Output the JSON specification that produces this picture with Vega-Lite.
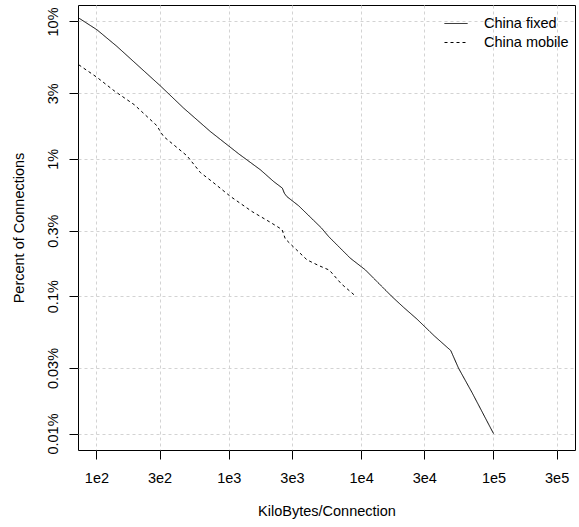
{
  "$schema": "https://vega.github.io/schema/vega-lite/v6.json",
  "width": 497,
  "height": 445,
  "autosize": {"type": "none"},
  "padding": {"left": 78, "top": 5, "right": 4, "bottom": 77},
  "background": "white",
  "config": {
    "font": "Liberation Sans",
    "view": {"stroke": "black", "strokeWidth": 1},
    "axis": {
      "domain": false,
      "ticks": true,
      "tickColor": "black",
      "tickSize": 9,
      "tickWidth": 1,
      "grid": true,
      "gridColor": "#d3d3d3",
      "gridDash": [3, 3],
      "gridWidth": 1,
      "labelFont": "Liberation Sans",
      "labelFontSize": 14.5,
      "labelColor": "black",
      "titleFont": "Liberation Sans",
      "titleFontSize": 14.5,
      "titleFontWeight": "normal",
      "titleColor": "black"
    }
  },
  "data": {
    "values": [
      {"series": "China fixed", "kb": 73.5, "pct": 10.6},
      {"series": "China fixed", "kb": 101, "pct": 8.70},
      {"series": "China fixed", "kb": 143, "pct": 6.58},
      {"series": "China fixed", "kb": 304, "pct": 3.40},
      {"series": "China fixed", "kb": 456, "pct": 2.34},
      {"series": "China fixed", "kb": 726, "pct": 1.58},
      {"series": "China fixed", "kb": 1189, "pct": 1.087},
      {"series": "China fixed", "kb": 1734, "pct": 0.832},
      {"series": "China fixed", "kb": 2185, "pct": 0.683},
      {"series": "China fixed", "kb": 2540, "pct": 0.612},
      {"series": "China fixed", "kb": 2630, "pct": 0.562},
      {"series": "China fixed", "kb": 2748, "pct": 0.531},
      {"series": "China fixed", "kb": 3375, "pct": 0.455},
      {"series": "China fixed", "kb": 5000, "pct": 0.3145},
      {"series": "China fixed", "kb": 5686, "pct": 0.2716},
      {"series": "China fixed", "kb": 8286, "pct": 0.189},
      {"series": "China fixed", "kb": 10760, "pct": 0.1554},
      {"series": "China fixed", "kb": 13180, "pct": 0.1277},
      {"series": "China fixed", "kb": 17100, "pct": 0.0993},
      {"series": "China fixed", "kb": 20930, "pct": 0.0829},
      {"series": "China fixed", "kb": 26420, "pct": 0.0681},
      {"series": "China fixed", "kb": 35700, "pct": 0.0514},
      {"series": "China fixed", "kb": 47560, "pct": 0.0402},
      {"series": "China fixed", "kb": 54450, "pct": 0.0299},
      {"series": "China fixed", "kb": 68800, "pct": 0.0199},
      {"series": "China fixed", "kb": 100000, "pct": 0.01},
      {"series": "China mobile", "kb": 73.5, "pct": 4.84},
      {"series": "China mobile", "kb": 101, "pct": 3.92},
      {"series": "China mobile", "kb": 136.7, "pct": 3.12},
      {"series": "China mobile", "kb": 193.6, "pct": 2.474},
      {"series": "China mobile", "kb": 287, "pct": 1.739},
      {"series": "China mobile", "kb": 304, "pct": 1.58},
      {"series": "China mobile", "kb": 322, "pct": 1.454},
      {"series": "China mobile", "kb": 484, "pct": 1.051},
      {"series": "China mobile", "kb": 610, "pct": 0.795},
      {"series": "China mobile", "kb": 748, "pct": 0.683},
      {"series": "China mobile", "kb": 1028, "pct": 0.533},
      {"series": "China mobile", "kb": 1500, "pct": 0.413},
      {"series": "China mobile", "kb": 2061, "pct": 0.345},
      {"series": "China mobile", "kb": 2525, "pct": 0.3055},
      {"series": "China mobile", "kb": 2673, "pct": 0.2615},
      {"series": "China mobile", "kb": 2970, "pct": 0.2364},
      {"series": "China mobile", "kb": 3901, "pct": 0.1838},
      {"series": "China mobile", "kb": 4750, "pct": 0.1676},
      {"series": "China mobile", "kb": 5757, "pct": 0.1547},
      {"series": "China mobile", "kb": 7085, "pct": 0.123},
      {"series": "China mobile", "kb": 9040, "pct": 0.1005}
    ]
  },
  "mark": {"type": "line", "clip": true, "color": "black", "strokeWidth": 1},
  "encoding": {
    "x": {
      "field": "kb",
      "type": "quantitative",
      "scale": {"type": "log", "domain": [72.6, 413000], "nice": false},
      "axis": {
        "values": [100, 300, 1000, 3000, 10000, 30000, 100000, 300000],
        "labelExpr": "replace(format(datum.value, '.0e'), '+', '')",
        "labelBaseline": "alphabetic",
        "labelPadding": 23,
        "labelFlush": false,
        "labelOverlap": false,
        "title": "KiloBytes/Connection",
        "titleX": 248.5,
        "titleY": 65.5,
        "titleAlign": "center",
        "titleBaseline": "alphabetic"
      }
    },
    "y": {
      "field": "pct",
      "type": "quantitative",
      "scale": {"type": "log", "domain": [0.007586, 13.18], "nice": false},
      "axis": {
        "values": [0.01, 0.03, 0.1, 0.3, 1, 3, 10],
        "labelExpr": "format(datum.value, '~g') + '%'",
        "labelAngle": -90,
        "labelAlign": "center",
        "labelBaseline": "alphabetic",
        "labelPadding": 11.5,
        "labelFlush": false,
        "labelOverlap": false,
        "title": "Percent of Connections",
        "titleAngle": -90,
        "titleX": -54.5,
        "titleY": 222.5,
        "titleAlign": "center",
        "titleBaseline": "alphabetic"
      }
    },
    "strokeDash": {
      "field": "series",
      "type": "nominal",
      "scale": {"domain": ["China fixed", "China mobile"], "range": [[1, 0], [3, 3]]},
      "legend": {
        "orient": "none",
        "legendX": 366,
        "legendY": 6.5,
        "title": null,
        "padding": 0,
        "symbolType": "stroke",
        "symbolSize": 529,
        "symbolStrokeWidth": 1,
        "symbolStrokeColor": "black",
        "symbolOpacity": 1,
        "labelFont": "Liberation Sans",
        "labelFontSize": 14.5,
        "labelColor": "black",
        "labelOffset": 16,
        "rowPadding": -2
      }
    }
  }
}
